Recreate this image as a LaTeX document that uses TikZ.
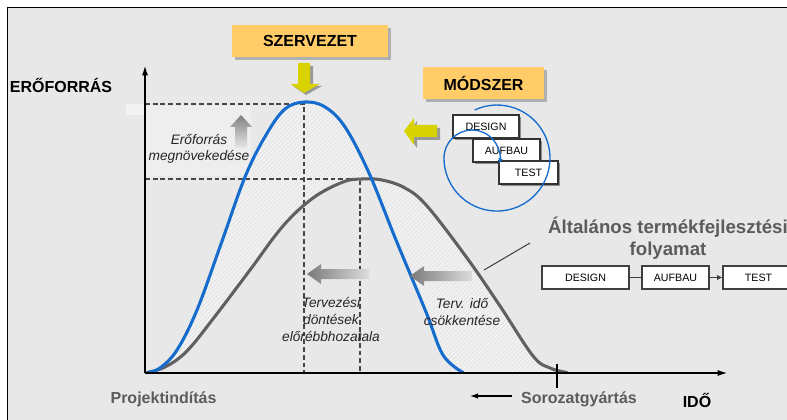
\documentclass[tikz,border=0pt]{standalone}
\usepackage{fontspec}
\setmainfont{Liberation Sans}
\usetikzlibrary{arrows.meta,patterns.meta,shadows}

\definecolor{panel}{RGB}{232,232,232}
\definecolor{boxorange}{RGB}{255,204,104}
\definecolor{signal}{RGB}{216,211,0}
\definecolor{curveblue}{RGB}{22,108,204}
\definecolor{curvegray}{RGB}{96,96,96}
\definecolor{labelgray}{RGB}{92,92,92}
\definecolor{guide}{RGB}{70,70,70}

\begin{document}
\begin{tikzpicture}[x=0.75pt,y=-0.75pt,
  tagbox/.style={fill=boxorange, inner sep=0pt, minimum height=24pt,
    font=\fontsize{12}{14}\selectfont\bfseries,
    drop shadow={shadow xshift=2.2pt, shadow yshift=-2.2pt, fill=black!45, opacity=0.6}},
  smallbox/.style={draw=black!80, line width=0.8pt, fill=white, inner sep=0pt,
    minimum height=17.25pt, font=\fontsize{8}{9}\selectfont,
    drop shadow={shadow xshift=1.2pt, shadow yshift=-1.2pt, fill=black!60, opacity=0.7}},
  flowbox/.style={draw=black!75, line width=0.8pt, fill=white, inner sep=0pt,
    minimum height=17.25pt, font=\fontsize{8}{9}\selectfont},
  guideline/.style={draw=guide, line width=0.95pt, dash pattern=on 3.6pt off 2.2pt},
  curveline/.style={line width=2.3pt, line cap=round, line join=round},
  note/.style={font=\fontsize{10.3}{12.5}\selectfont\itshape, align=center, text=black!85},
  axislabel/.style={font=\fontsize{12}{14}\selectfont\bfseries},
  fadearrow/.style={draw=none},
]
\useasboundingbox (0,0) rectangle (787,420);

% panel with its top and left frame
\fill[white] (0,0) rectangle (787,420);
\fill[panel] (7.5,7.5) rectangle (787,420);
\draw[black, line width=1pt] (7.5,420) -- (7.5,7.5) -- (787,7.5);

% lighter field behind the resource note
\fill[white, opacity=0.28] (146,106) rectangle (251,176);
\fill[white, opacity=0.5] (126,104) rectangle (145,115);

% hatched difference between the two resource curves
\fill[even odd rule, pattern={Lines[angle=45,distance=2.3pt,line width=0.55pt]}, pattern color=white!80!panel]
  plot[smooth, tension=0.6] coordinates {(148,372.5) (160,368) (177,350) (197,310) (221,244) (245,177) (266,135) (285,109) (305,102) (325,107) (345,127) (369,173) (396,240) (426,312) (443,355) (463,372.5)} -- cycle
  plot[smooth, tension=0.6] coordinates {(147,372.5) (165,367) (187,351) (216,315) (250,270) (283,226) (313,198) (343,182) (362,179) (382,180) (405,188) (427,206) (467,258) (500,306) (533,356) (550,368) (567,372.5)} -- cycle;

% guide lines to the two peaks
\coordinate (ytopA) at (145,104);
\coordinate (peakA) at (304,104);
\coordinate (baseA) at (304,373);
\coordinate (ytopB) at (145,179);
\coordinate (peakB) at (360,179);
\coordinate (baseB) at (360,373);
\draw[guideline] (ytopA) -- (peakA) -- (baseA);
\draw[guideline] (ytopB) -- (peakB) -- (baseB);

% resource curves
\draw[curveline, curvegray]
  plot[smooth, tension=0.6] coordinates {(147,372.5) (165,367) (187,351) (216,315) (250,270) (283,226) (313,198) (343,182) (362,179) (382,180) (405,188) (427,206) (467,258) (500,306) (533,356) (550,368) (567,372.5)};
\draw[curvegray, line width=1.6pt] (145,373) -- (253,373);
\draw[curvegray, line width=1.6pt] (400,373) -- (582,373);
\draw[curveline, curveblue]
  plot[smooth, tension=0.6] coordinates {(148,372.5) (160,368) (177,350) (197,310) (221,244) (245,177) (266,135) (285,109) (305,102) (325,107) (345,127) (369,173) (396,240) (426,312) (443,355) (463,372.5)};

% axes
\coordinate (origin) at (145,373);
\coordinate (yend) at (145,66);
\coordinate (xend) at (727,373);
\draw[black, line width=0.8pt, -{Latex[length=7pt,width=4.5pt]}] (origin) -- (yend);
\draw[black, line width=0.8pt, -{Latex[length=7pt,width=4.5pt]}] (origin) -- (xend);

% fading gray arrows
\shade[top color=black!50, bottom color=panel, fadearrow]
  (241,115) -- (252,127) -- (247,127) -- (247,148) -- (235,148) -- (235,127) -- (230,127) -- cycle;
\shade[left color=black!52, right color=panel!95!black, fadearrow]
  (307,274) -- (321,264) -- (321,269) -- (369,269) -- (369,279) -- (321,279) -- (321,284) -- cycle;
\shade[left color=black!52, right color=panel!95!black, fadearrow]
  (410,276) -- (424,266) -- (424,271) -- (472,271) -- (472,281) -- (424,281) -- (424,286) -- cycle;

% yellow arrows with shadows
\fill[black!40] (301,66) -- (313,66) -- (313,86) -- (322,86) -- (306,95) -- (293,86) -- (301,86) -- cycle;
\fill[signal] (298,63) -- (310,63) -- (310,84) -- (319.5,84) -- (304,93) -- (290.5,84) -- (298,84) -- cycle;
\fill[black!40] (407,134) -- (417,121) -- (417,128) -- (440,128) -- (440,140) -- (417,140) -- (417,148) -- cycle;
\fill[signal] (404,131) -- (414,118) -- (414,125) -- (437,125) -- (437,137) -- (414,137) -- (414,145) -- cycle;

% orange headings
\node[tagbox, minimum width=117pt] (org) at (310,41) {SZERVEZET};
\node[tagbox, minimum width=90.75pt] (meth) at (483.5,83) {MÓDSZER};

% staggered method boxes
\node[smallbox, minimum width=49.5pt] (d1) at (486,126.5) {DESIGN};
\node[smallbox, minimum width=50.25pt] (a1) at (506.5,150.5) {AUFBAU};
\node[smallbox, minimum width=44.25pt] (t1) at (528.5,172.5) {TEST};

% iteration spiral
\draw[curveblue, line width=1pt, -{Latex[length=4pt,width=3.5pt]}]
  (474.6,110) arc[start angle=115, end angle=-180, radius=39.75pt]
  arc[start angle=180, end angle=-12, radius=21pt];

% general process chain
\node[flowbox, minimum width=65.25pt] (d2) at (585.5,277.5) {DESIGN};
\node[flowbox, minimum width=50.25pt] (a2) at (675.5,277.5) {AUFBAU};
\node[flowbox, minimum width=53.25pt] (t2) at (758.5,277.5) {TEST};
\draw[black!75, line width=0.8pt] (d2.east) -- (a2.west);
\draw[black!75, line width=0.8pt, -{Latex[length=4pt,width=4pt]}] (a2.east) -- (t2.west);

% multi-line labels are placed by the baseline of their last line
\node[font=\fontsize{14}{16.5}\selectfont\bfseries, text=labelgray, align=center, anchor=base] (title) at (668,255)
  {Általános termékfejlesztési\\folyamat};
\coordinate (leadA) at (484,270);
\coordinate (leadB) at (530,243);
\draw[guide, line width=0.8pt] (leadA) -- (leadB);

% series production marker
\coordinate (tickTop) at (557,364);
\coordinate (tickBot) at (557,388);
\draw[black, line width=0.8pt] (tickTop) -- (tickBot);
\coordinate (backA) at (512,396);
\coordinate (backB) at (470,396);
\draw[black, line width=0.8pt, -{Latex[length=6pt,width=4pt]}] (backA) -- (backB);

% axis and side labels
\node[axislabel, anchor=base] (res) at (61,93) {ERŐFORRÁS};
\node[axislabel, anchor=base] (time) at (697,407) {IDŐ};
\node[axislabel, anchor=base, text=labelgray] (start) at (163.5,403) {Projektindítás};
\node[axislabel, anchor=base, text=labelgray] (series) at (579,403) {Sorozatgyártás};

% explanatory notes
\node[note, anchor=base] (n1) at (199,161) {Erőforrás\\megnövekedése};
\node[note, anchor=base] (n2) at (331,341) {Tervezési\\döntések\\előrébbhozatala};
\node[note, anchor=base] (n3) at (462,325) {Terv. idő\\csökkentése};
\end{tikzpicture}
\end{document}
